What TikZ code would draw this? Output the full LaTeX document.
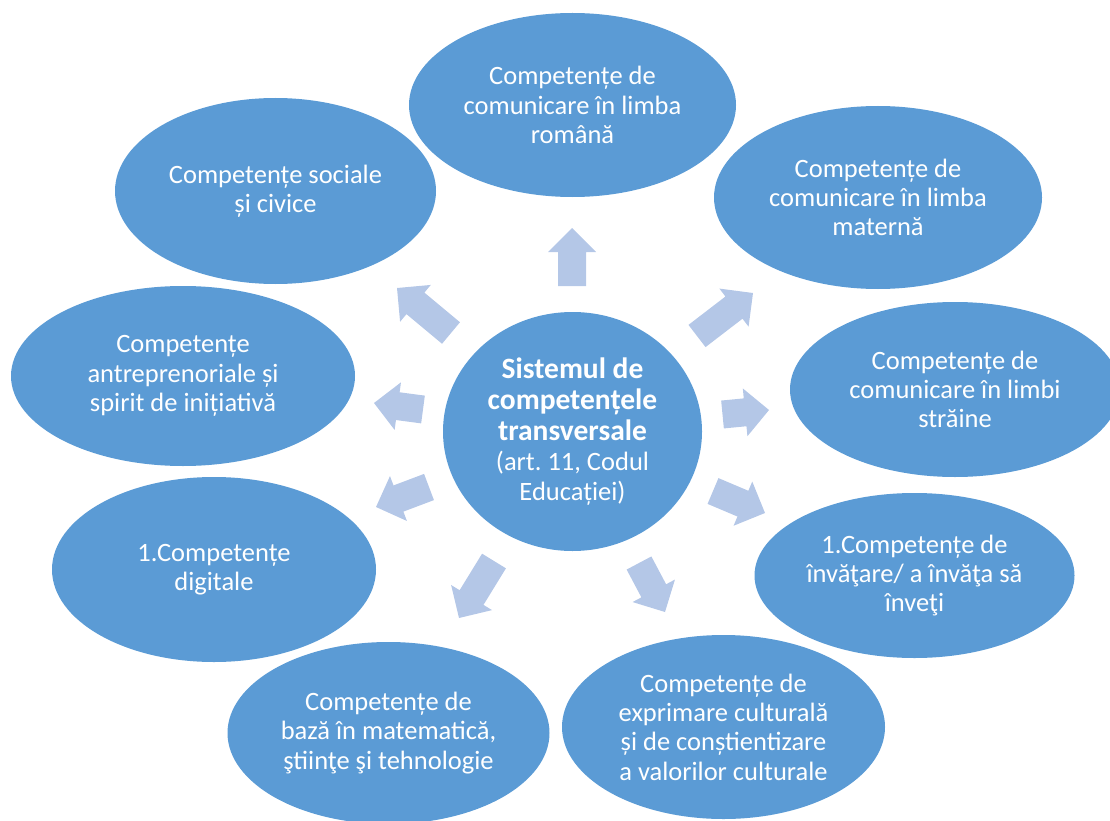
\documentclass[tikz,border=0pt]{standalone}
\usepackage{fontspec}
\setmainfont{Carlito}
\usetikzlibrary{shapes.geometric,calc}
\definecolor{ellc}{HTML}{5B9BD5}
\definecolor{arrc}{HTML}{B4C7E7}
\frenchspacing
\tikzset{
  bubble/.style={ellipse, fill=ellc, draw=none, inner sep=0pt, text=white, align=center,
    font=\frenchspacing\fontsize{26.5}{29.3}\selectfont},
  hub/.style={bubble, font=\frenchspacing\fontsize{26.5}{30}\selectfont},
  arrowfill/.style={fill=arrc, draw=none},
}
\newcommand\hubbold[1]{{\fontsize{29.5}{32.5}\selectfont\bfseries #1}}
\newcommand\blockarrow[3]{%
  \coordinate (#1-h) at ($(#3)!24pt!(#2)$);
  \fill[arrowfill] ($(#2)!14pt!90:(#3)$) -- ($(#1-h)!14pt!-90:(#2)$) -- ($(#1-h)!24pt!-90:(#2)$)
    -- (#3) -- ($(#1-h)!24pt!90:(#2)$) -- ($(#1-h)!14pt!90:(#2)$) -- ($(#2)!14pt!-90:(#3)$) -- cycle;
}
\begin{document}
\begin{tikzpicture}[x=1pt,y=-1pt]
\useasboundingbox (0,0) rectangle (1110,821);

% ellipses
\node[hub, minimum width=259pt, minimum height=239pt] (center) at (572.5,431.5)
  {\hubbold{Sistemul de}\\[1pt]\hubbold{competențele}\\[1pt]\hubbold{transversale}\\(art. 11, Codul\\Educației)};
\node[bubble, minimum width=327pt, minimum height=184pt] (romana) at (572.5,105)
  {Competențe de\\comunicare în limba\\română};
\node[bubble, minimum width=328pt, minimum height=183pt] (materna) at (878,197.5)
  {Competențe de\\comunicare în limba\\maternă};
\node[bubble, minimum width=330pt, minimum height=175pt] (straine) at (955,389.5)
  {Competențe de\\comunicare în limbi\\străine};
\node[bubble, minimum width=320pt, minimum height=165pt] (invatare) at (914.5,575.5)
  {1.Competențe de\\învăţare/ a învăţa să\\înveţi};
\node[bubble, minimum width=323pt, minimum height=184pt] (culturale) at (723.5,727)
  {Competențe de\\exprimare culturală\\și de conștientizare\\a valorilor culturale};
\node[bubble, minimum width=322pt, minimum height=182pt] (baza) at (388.5,733)
  {Competențe de\\bază în matematică,\\ştiinţe şi tehnologie};
\node[bubble, minimum width=324pt, minimum height=185pt] (digitale) at (214,569.5)
  {1.Competențe\\digitale};
\node[bubble, minimum width=344pt, minimum height=180pt] (antrep) at (183,376)
  {Competențe\\antreprenoriale și\\spirit de inițiativă};
\node[bubble, minimum width=321pt, minimum height=186pt] (sociale) at (275.5,191)
  {Competențe sociale\\și civice};

% arrow end points
\coordinate (aUpT) at (572,286);     \coordinate (aUpE) at (572,228);
\coordinate (aUlT) at (451,333);     \coordinate (aUlE) at (397,288);
\coordinate (aUrT) at (697,336);     \coordinate (aUrE) at (753,293);
\coordinate (aRT) at (722.5,414.5);  \coordinate (aRE) at (769,410);
\coordinate (aDrT) at (713,491);     \coordinate (aDrE) at (765,513);
\coordinate (aDT) at (639,563);      \coordinate (aDE) at (665,612);
\coordinate (aDlT) at (494,561);     \coordinate (aDlE) at (459,618);
\coordinate (aLlT) at (429,487);     \coordinate (aLlE) at (376,507);
\coordinate (aLT) at (423,409.5);    \coordinate (aLE) at (374,403);

\blockarrow{up}{aUpT}{aUpE}
\blockarrow{ul}{aUlT}{aUlE}
\blockarrow{ur}{aUrT}{aUrE}
\blockarrow{r}{aRT}{aRE}
\blockarrow{dr}{aDrT}{aDrE}
\blockarrow{d}{aDT}{aDE}
\blockarrow{dl}{aDlT}{aDlE}
\blockarrow{ll}{aLlT}{aLlE}
\blockarrow{l}{aLT}{aLE}
\end{tikzpicture}
\end{document}
